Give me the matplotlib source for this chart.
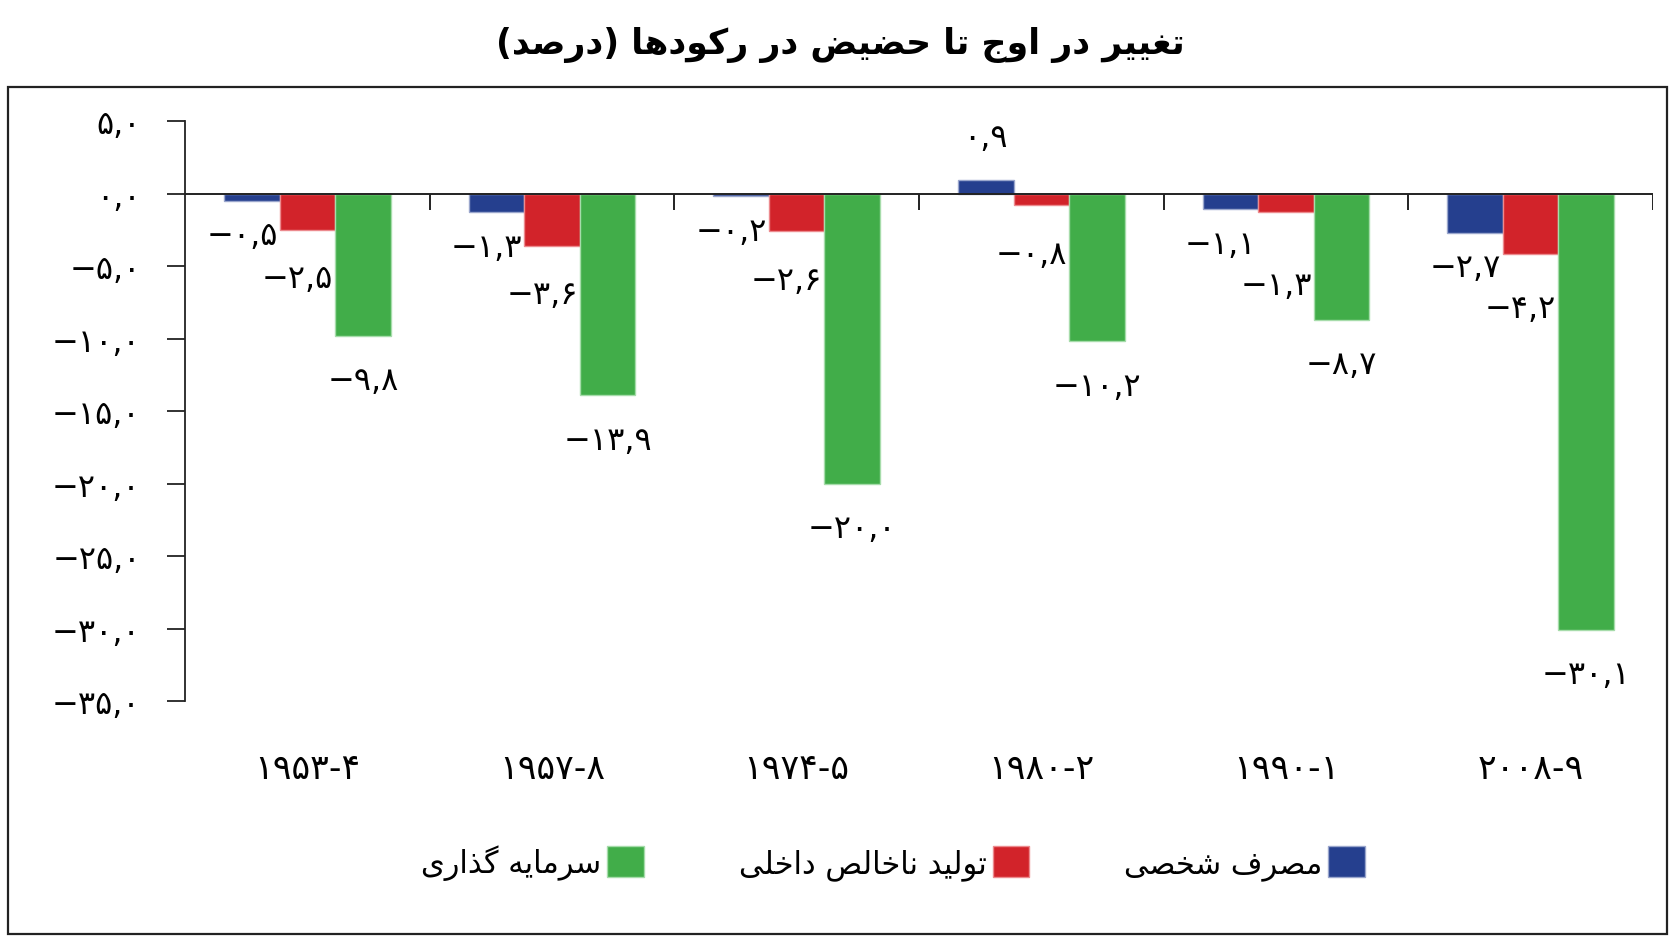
import numpy as np
import matplotlib
matplotlib.use("Agg")
import matplotlib.pyplot as plt
from matplotlib.patches import Rectangle, Patch

# data
title = "تغییر در اوج تا حضیض در رکودها (درصد)"
periods = ["1953-4", "1957-8", "1974-5", "1980-2", "1990-1", "2008-9"]
series_names = ["مصرف شخصی", "تولید ناخالص داخلی", "سرمایه گذاری"]
consumption = [-0.5, -1.3, -0.2, 0.9, -1.1, -2.7]
gdp = [-2.5, -3.6, -2.6, -0.8, -1.3, -4.2]
investment = [-9.8, -13.9, -20.0, -10.2, -8.7, -30.1]
y_ticks = [5, 0, -5, -10, -15, -20, -25, -30, -35]

colors = ["#253f8e", "#d2232a", "#41ad49"]
edges = ["#9aa6cc", "#ec8a8e", "#a6dcaa"]

# matplotlib has no arabic shaping: pick presentation forms by hand
# (isolated, final, initial, medial); right-joining letters have only two
_FORMS = {
    "ا": "\uFE8D\uFE8E",
    "ب": "\uFE8F\uFE90\uFE91\uFE92",
    "ت": "\uFE95\uFE96\uFE97\uFE98",
    "ج": "\uFE9D\uFE9E\uFE9F\uFEA0",
    "ح": "\uFEA1\uFEA2\uFEA3\uFEA4",
    "خ": "\uFEA5\uFEA6\uFEA7\uFEA8",
    "د": "\uFEA9\uFEAA",
    "ذ": "\uFEAB\uFEAC",
    "ر": "\uFEAD\uFEAE",
    "ز": "\uFEAF\uFEB0",
    "س": "\uFEB1\uFEB2\uFEB3\uFEB4",
    "ش": "\uFEB5\uFEB6\uFEB7\uFEB8",
    "ص": "\uFEB9\uFEBA\uFEBB\uFEBC",
    "ض": "\uFEBD\uFEBE\uFEBF\uFEC0",
    "غ": "\uFECD\uFECE\uFECF\uFED0",
    "ف": "\uFED1\uFED2\uFED3\uFED4",
    "ل": "\uFEDD\uFEDE\uFEDF\uFEE0",
    "م": "\uFEE1\uFEE2\uFEE3\uFEE4",
    "ن": "\uFEE5\uFEE6\uFEE7\uFEE8",
    "ه": "\uFEE9\uFEEA\uFEEB\uFEEC",
    "و": "\uFEED\uFEEE",
    "ی": "\uFEEF\uFEF0\uFEF3\uFEF4",
    "ک": "\uFB8E\uFB8F\uFB90\uFB91",
    "گ": "\uFB92\uFB93\uFB94\uFB95",
}
_MIRROR = {"(": ")", ")": "("}


def shape(text):
    out = []
    for i, c in enumerate(text):
        forms = _FORMS.get(c)
        if forms is None:
            out.append(c)
            continue
        prev = text[i - 1] if i > 0 else ""
        nxt = text[i + 1] if i + 1 < len(text) else ""
        joins_prev = prev in _FORMS and len(_FORMS[prev]) == 4
        joins_next = len(forms) == 4 and nxt in _FORMS
        if joins_prev and joins_next:
            out.append(forms[3])
        elif joins_prev:
            out.append(forms[1])
        elif joins_next:
            out.append(forms[2])
        else:
            out.append(forms[0])
    return "".join(_MIRROR.get(c, c) for c in reversed(out))


_FA_NUM = str.maketrans("0123456789.-", "۰۱۲۳۴۵۶۷۸۹,−")
_FA_DIG = str.maketrans("0123456789", "۰۱۲۳۴۵۶۷۸۹")


def fa_num(v):
    return f"{v:.1f}".translate(_FA_NUM)


plt.rcParams["font.family"] = ["DejaVu Sans"]

fig = plt.figure(figsize=(16.78, 9.45), dpi=100)
ax = fig.add_axes([0.1103, 0.2571, 0.8748, 0.6138])
ax.set_xlim(-0.5, len(periods) - 0.5)
ax.set_ylim(-35, 5)

# pixels per data unit on y, used to keep stacked labels apart
px_per_unit = ax.transData.transform((0, 1))[1] - ax.transData.transform((0, 0))[1]

x = np.arange(len(periods))
width = 0.227
series = [consumption, gdp, investment]
label_dx = [-10, -10, 0]
label_gap = [35, 49, 45]  # pixels below the bar end

blue_label = {}
for k, vals in enumerate(series):
    pos = x + (k - 1) * width
    ax.bar(pos, vals, width, color=colors[k], edgecolor=edges[k], linewidth=1, zorder=2)
    for i, (xi, v) in enumerate(zip(pos, vals)):
        if v >= 0:
            dx, dy = 0, 43
        else:
            below = -v * px_per_unit + label_gap[k]
            if k == 0:
                blue_label[i] = below
            elif k == 1 and i in blue_label:
                below = max(below, blue_label[i] + 41)
            dx, dy = label_dx[k], -(below + v * px_per_unit)
        ax.annotate(fa_num(v), xy=(xi, v), xytext=(dx, dy), textcoords="offset pixels",
                    ha="center", va="center", fontsize=23, color="black")

ax.axhline(0, color="#222222", lw=1.4, zorder=3)
# group separator ticks on the zero line
ax.vlines(x + 0.5, -1.15, 0, color="#222222", lw=1.4, zorder=3)

ax.set_yticks(y_ticks)
ax.set_yticklabels([fa_num(t) for t in y_ticks], fontsize=23)
ax.tick_params(axis="y", direction="out", length=13, width=1.3, pad=19, color="#222222")
ax.set_xticks(x)
ax.set_xticklabels([p.translate(_FA_DIG) for p in periods], fontsize=25)
ax.tick_params(axis="x", length=0, pad=36)
for s in ["top", "right", "bottom"]:
    ax.spines[s].set_visible(False)
ax.spines["left"].set_linewidth(1.3)
ax.spines["left"].set_color("#222222")

fig.text(840 / 1678, 1 - 45 / 945, shape(title), ha="center", va="center",
         fontsize=25, fontweight="bold")

# legend reads right-to-left: text sits left of each swatch
handles = [Patch(facecolor=colors[k], edgecolor=edges[k]) for k in (2, 1, 0)]
labels = [shape(series_names[k]) for k in (2, 1, 0)]
fig.legend(handles, labels, loc="center", bbox_to_anchor=(893 / 1678, 1 - 863 / 945),
           ncol=3, frameon=False, markerfirst=False, fontsize=22,
           handlelength=1.2, handleheight=1.15, handletextpad=0.2, columnspacing=3.1)

fig.patches.append(Rectangle((8 / 1678, 10 / 945), 1659 / 1678, 847 / 945,
                             transform=fig.transFigure, fill=False,
                             edgecolor="#222222", lw=1.6))

fig.savefig("out.png", dpi=100)
